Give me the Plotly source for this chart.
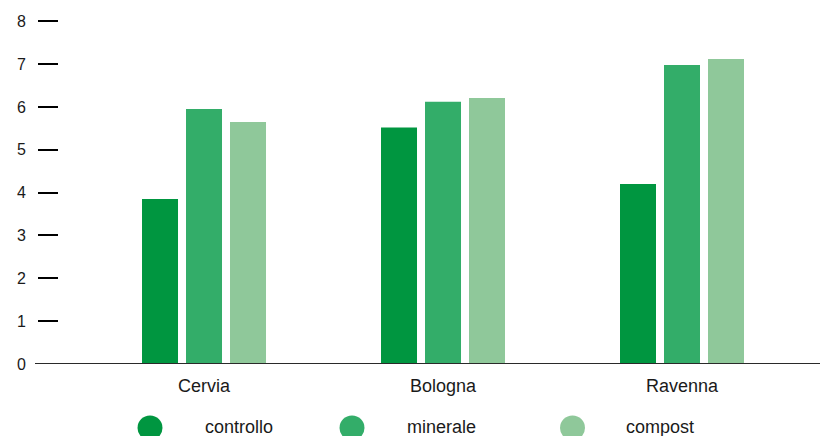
import plotly.graph_objects as go

# ---- data ----
sites = ["Cervia", "Bologna", "Ravenna"]
series_names = ["controllo", "minerale", "compost"]
controllo = [3.85, 5.52, 4.20]
minerale = [5.95, 6.12, 6.98]
compost = [5.65, 6.21, 7.12]
y_ticks = [0, 1, 2, 3, 4, 5, 6, 7, 8]

colors = ["#009640", "#33ad69", "#8fc89a"]
values = [controllo, minerale, compost]

# page body margin is removed by post_script below, so screen coords == figure coords
W, H = 820, 436
PX_PER_UNIT = 42.875
YMAX = 8.1
screen_left, screen_right, screen_zero = 38, 820, 364
screen_top = screen_zero - YMAX * PX_PER_UNIT
L = screen_left
R = W - screen_right
B = H - screen_zero
T = screen_top
PW, PH = W - L - R, H - T - B
FONT = "Liberation Sans, Arial, Helvetica, sans-serif"

fig = go.Figure()
for name, vals, col in zip(series_names, values, colors):
    fig.add_trace(go.Bar(x=sites, y=vals, name=name, marker=dict(color=col, line=dict(width=0)),
                         showlegend=False, hoverinfo="skip"))

def px_x(p):
    return (p - L) / PW

def px_y(p):
    return (H - B - p) / PH

# manual legend with large circles
shapes = []
annotations = []
legend_cx = [150, 352, 572.5]
legend_tx = [203, 405, 624]
r = 12.5
cy = 428
for name, col, cx, tx in zip(series_names, colors, legend_cx, legend_tx):
    shapes.append(dict(type="circle", xref="paper", yref="paper",
                       x0=px_x(cx - r), x1=px_x(cx + r), y0=px_y(cy + r), y1=px_y(cy - r),
                       fillcolor=col, line=dict(width=0), layer="above"))
    annotations.append(dict(text=name, xref="paper", yref="paper", x=px_x(tx), y=px_y(427),
                            xanchor="left", yanchor="middle", showarrow=False,
                            font=dict(size=18, color="#1a1a1a", family=FONT)))

# baseline extending slightly left
shapes.append(dict(type="line", xref="paper", yref="y", x0=px_x(35), x1=1, y0=0, y1=0,
                   line=dict(color="#2a2a2a", width=2), layer="above"))

fig.update_layout(
    width=W, height=H,
    margin=dict(l=L, r=R, t=T, b=B, pad=0, autoexpand=False),
    paper_bgcolor="white", plot_bgcolor="white",
    barmode="group", bargap=0.4477, bargroupgap=0.1818,
    font=dict(family=FONT, size=16, color="#1a1a1a"),
    shapes=shapes, annotations=annotations,
    xaxis=dict(range=[-0.6946, 2.5774], showgrid=False, zeroline=False, showline=False,
               ticks="", tickfont=dict(size=18), ticklabelstandoff=9, automargin=False,
               fixedrange=True),
    yaxis=dict(range=[0, YMAX], tickvals=y_ticks, showgrid=False, zeroline=False, showline=False,
               ticks="inside", ticklen=20, tickwidth=2, tickcolor="#000000",
               tickfont=dict(size=16), ticklabelstandoff=11, automargin=False,
               fixedrange=True),
)

fig.write_html(
    "out.html",
    config={"displayModeBar": False, "staticPlot": True},
    post_script="document.body.style.margin='0';document.documentElement.style.overflow='hidden';document.body.style.overflow='hidden';",
)
